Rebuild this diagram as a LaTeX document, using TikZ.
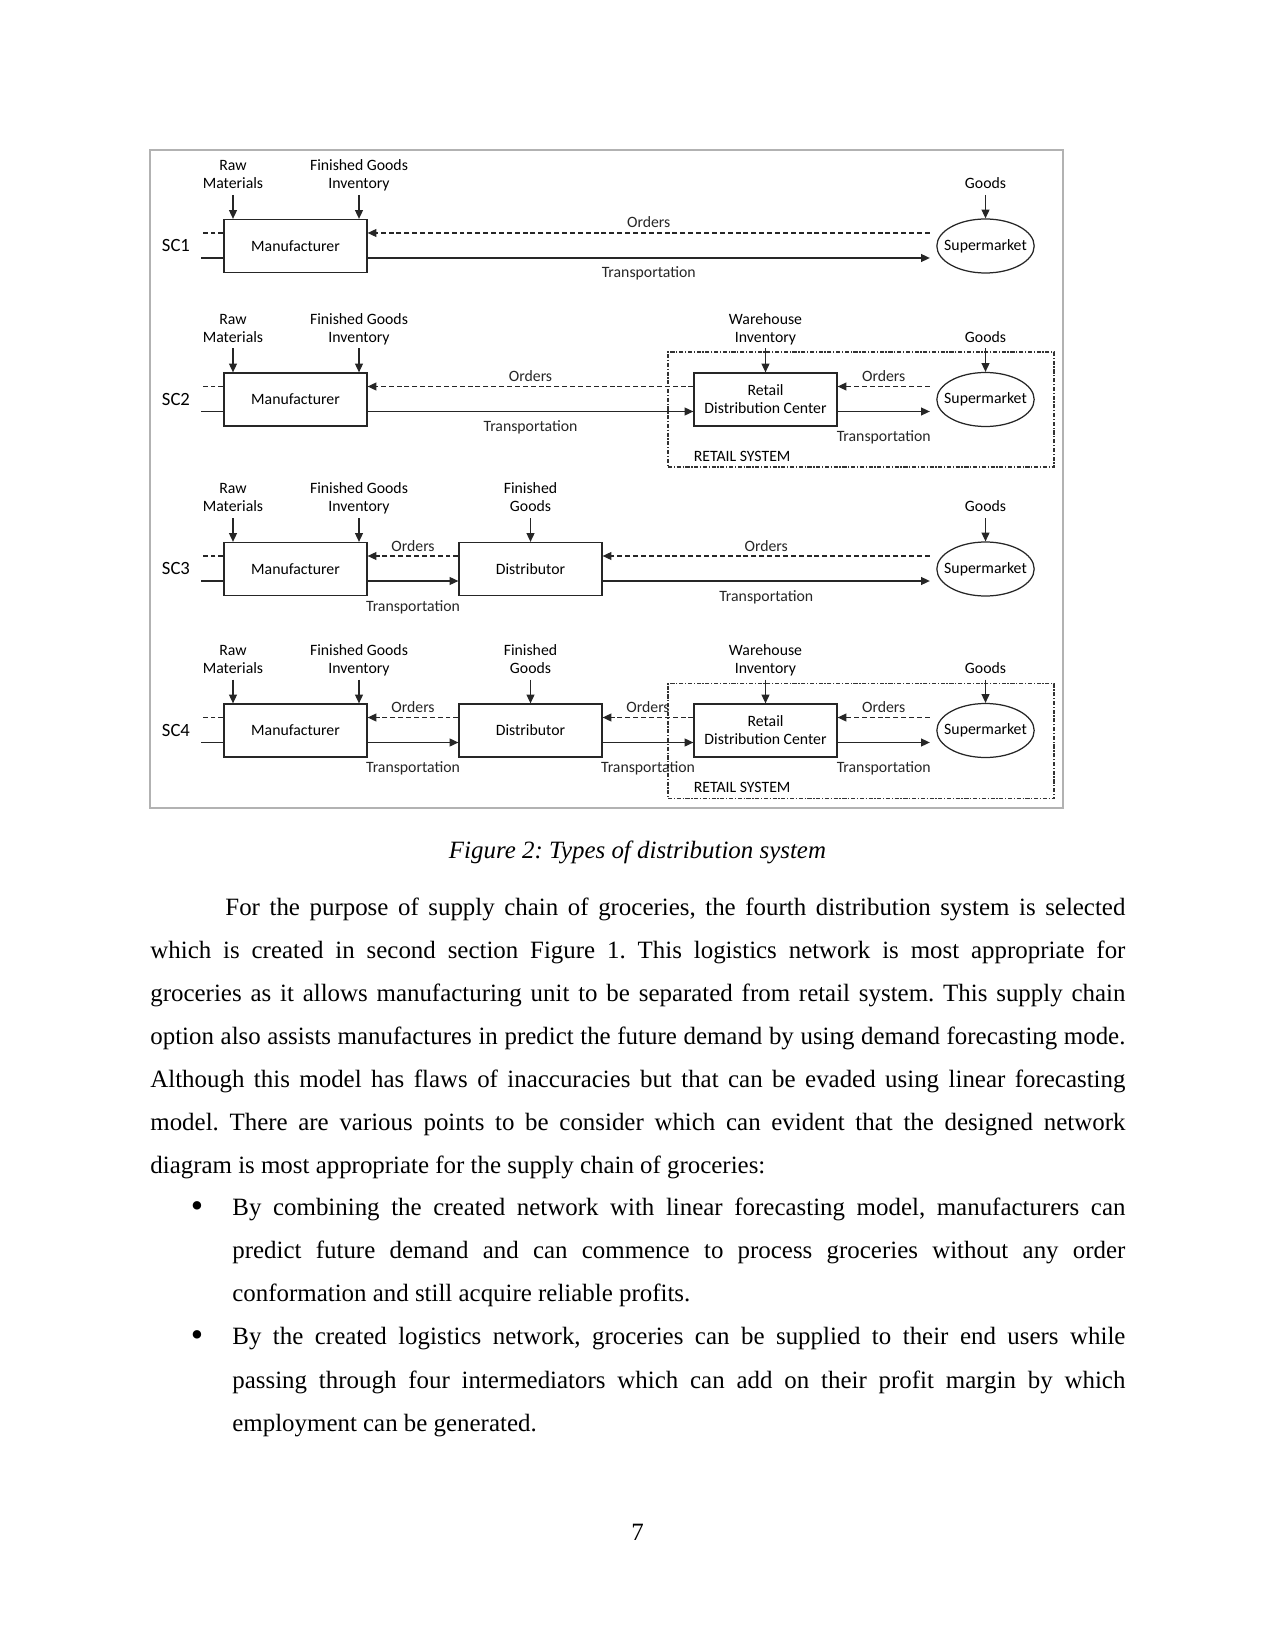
\documentclass[tikz,border=0pt]{standalone}
\usepackage{fontspec}
\setmainfont{Liberation Serif}
\newfontfamily\diafont{Carlito}
\usepackage{tikz}
\usetikzlibrary{arrows.meta,positioning,shapes.geometric,calc}

\newlength{\pxu}
\setlength{\pxu}{0.4818pt}
\newcommand{\dfont}{\diafont\fontsize{7.6}{8.7}\selectfont}
\newcommand{\bodyfont}{\fontsize{12}{14}\selectfont}
\frenchspacing

\begin{document}
\begin{tikzpicture}[
    x=\pxu, y=-\pxu,
    box/.style={rectangle, draw=black!85, line width=0.6pt, align=center,
                minimum width=143\pxu, minimum height=53\pxu, inner sep=1pt, font=\dfont},
    shop/.style={ellipse, draw=black!85, line width=0.6pt, minimum width=97\pxu,
                 minimum height=54\pxu, inner xsep=-3.3pt, inner ysep=0pt,
                 outer xsep=7\pxu, font=\dfont},
    retail/.style={rectangle, draw=black!80, line width=0.5pt,
                   dash pattern=on 2pt off 0.8pt on 0.6pt off 0.8pt,
                   minimum width=386\pxu, minimum height=115\pxu},
    feed/.style={align=center, font=\dfont, anchor=south, inner sep=0pt,
                 text depth=0pt, outer ysep=3pt},
    sclbl/.style={font=\diafont\fontsize{9}{10}\selectfont, inner sep=0pt},
    syslbl/.style={font=\dfont, inner sep=0pt},
    flow/.style={line width=0.6pt, black!85, -{Triangle[length=4.2pt,width=3.8pt]}},
    orderflow/.style={flow, dash pattern=on 2.4pt off 1.4pt},
    stub/.style={line width=0.6pt, black!85},
    orderstub/.style={stub, dash pattern=on 2.4pt off 1.4pt},
    ordlbl/.style={midway, anchor=base, yshift=5\pxu, font=\dfont},
    trlbl/.style={midway, anchor=base, yshift=-20\pxu, font=\dfont},
    trlow/.style={midway, anchor=base, yshift=-30\pxu, font=\dfont},
    txt/.style={anchor=base west, inner sep=0pt, font=\bodyfont},
    bullet/.style={anchor=base, inner sep=0pt, font=\fontsize{17}{17}\selectfont}
]
\useasboundingbox (0,0) rectangle (1275,1651);

% figure frame
\draw[gray!60, line width=0.5pt] (150,150) rectangle (1063,808);

% ---- SC1 ----
\node[box] (mfr1) at (295.5,246) {Manufacturer};
\node[shop] (sm1) at (985.5,246) {Supermarket};
\node[sclbl, left=33\pxu of mfr1] (sc1) {SC1};
\node[feed] (raw1) at (233,195) {Raw\\Materials};
\node[feed] (fgi1) at (359,195) {Finished Goods\\Inventory};
\node[feed] (goods1) at (985.5,195) {Goods};
\coordinate (o1) at ([yshift=13\pxu]mfr1.east);
\coordinate (t1) at ([yshift=-12\pxu]mfr1.east);

\draw[flow] (raw1) -- (raw1 |- mfr1.north);
\draw[flow] (fgi1) -- (fgi1 |- mfr1.north);
\draw[flow] (goods1) -- (goods1 |- sm1.north);
\draw[orderstub] (mfr1.west |- o1) -- ++(-22,0);
\draw[stub] (mfr1.west |- t1) -- ++(-22,0);
\draw[orderflow] (sm1.west |- o1) -- (mfr1.east |- o1) node[ordlbl]{Orders};
\draw[flow] (mfr1.east |- t1) -- (sm1.west |- t1) node[trlbl]{Transportation};

% ---- SC2 ----
\node[box] (mfr2) at (295.5,399.5) {Manufacturer};
\node[box] (rdc2) at (765.5,399.5) {Retail\\Distribution Center};
\node[shop] (sm2) at (985.5,399.5) {Supermarket};
\node[retail] (rs2) at (861,409.5) {};
\node[syslbl, below right=24\pxu and 0pt of rdc2.south west] (rsl2) {RETAIL SYSTEM};
\node[sclbl, left=33\pxu of mfr2] (sc2) {SC2};
\node[feed] (raw2) at (233,348.5) {Raw\\Materials};
\node[feed] (fgi2) at (359,348.5) {Finished Goods\\Inventory};
\node[feed] (whi2) at (765.5,348.5) {Warehouse\\Inventory};
\node[feed] (goods2) at (985.5,348.5) {Goods};
\coordinate (o2) at ([yshift=13\pxu]mfr2.east);
\coordinate (t2) at ([yshift=-12\pxu]mfr2.east);

\draw[flow] (raw2) -- (raw2 |- mfr2.north);
\draw[flow] (fgi2) -- (fgi2 |- mfr2.north);
\draw[flow] (whi2) -- (whi2 |- rdc2.north);
\draw[flow] (goods2) -- (goods2 |- sm2.north);
\draw[orderstub] (mfr2.west |- o2) -- ++(-22,0);
\draw[stub] (mfr2.west |- t2) -- ++(-22,0);
\draw[orderflow] (sm2.west |- o2) -- (rdc2.east |- o2) node[ordlbl]{Orders};
\draw[orderflow] (rdc2.west |- o2) -- (mfr2.east |- o2) node[ordlbl]{Orders};
\draw[flow] (mfr2.east |- t2) -- (rdc2.west |- t2) node[trlbl]{Transportation};
\draw[flow] (rdc2.east |- t2) -- (sm2.west |- t2) node[trlow]{Transportation};

% ---- SC3 ----
\node[box] (mfr3) at (295.5,569) {Manufacturer};
\node[box] (dist3) at (530.5,569) {Distributor};
\node[shop] (sm3) at (985.5,569) {Supermarket};
\node[sclbl, left=33\pxu of mfr3] (sc3) {SC3};
\node[feed] (raw3) at (233,518) {Raw\\Materials};
\node[feed] (fgi3) at (359,518) {Finished Goods\\Inventory};
\node[feed] (fg3) at (530.5,518) {Finished\\Goods};
\node[feed] (goods3) at (985.5,518) {Goods};
\coordinate (o3) at ([yshift=13\pxu]mfr3.east);
\coordinate (t3) at ([yshift=-12\pxu]mfr3.east);

\draw[flow] (raw3) -- (raw3 |- mfr3.north);
\draw[flow] (fgi3) -- (fgi3 |- mfr3.north);
\draw[flow] (fg3) -- (fg3 |- dist3.north);
\draw[flow] (goods3) -- (goods3 |- sm3.north);
\draw[orderstub] (mfr3.west |- o3) -- ++(-22,0);
\draw[stub] (mfr3.west |- t3) -- ++(-22,0);
\draw[orderflow] (sm3.west |- o3) -- (dist3.east |- o3) node[ordlbl]{Orders};
\draw[orderflow] (dist3.west |- o3) -- (mfr3.east |- o3) node[ordlbl]{Orders};
\draw[flow] (mfr3.east |- t3) -- (dist3.west |- t3) node[trlow]{Transportation};
\draw[flow] (dist3.east |- t3) -- (sm3.west |- t3) node[trlbl]{Transportation};

% ---- SC4 ----
\node[box] (mfr4) at (295.5,730.5) {Manufacturer};
\node[box] (dist4) at (530.5,730.5) {Distributor};
\node[box] (rdc4) at (765.5,730.5) {Retail\\Distribution Center};
\node[shop] (sm4) at (985.5,730.5) {Supermarket};
\node[retail] (rs4) at (861,741) {};
\node[syslbl, below right=24\pxu and 0pt of rdc4.south west] (rsl4) {RETAIL SYSTEM};
\node[sclbl, left=33\pxu of mfr4] (sc4) {SC4};
\node[feed] (raw4) at (233,679.5) {Raw\\Materials};
\node[feed] (fgi4) at (359,679.5) {Finished Goods\\Inventory};
\node[feed] (fg4) at (530.5,679.5) {Finished\\Goods};
\node[feed] (whi4) at (765.5,679.5) {Warehouse\\Inventory};
\node[feed] (goods4) at (985.5,679.5) {Goods};
\coordinate (o4) at ([yshift=13\pxu]mfr4.east);
\coordinate (t4) at ([yshift=-12\pxu]mfr4.east);

\draw[flow] (raw4) -- (raw4 |- mfr4.north);
\draw[flow] (fgi4) -- (fgi4 |- mfr4.north);
\draw[flow] (fg4) -- (fg4 |- dist4.north);
\draw[flow] (whi4) -- (whi4 |- rdc4.north);
\draw[flow] (goods4) -- (goods4 |- sm4.north);
\draw[orderstub] (mfr4.west |- o4) -- ++(-22,0);
\draw[stub] (mfr4.west |- t4) -- ++(-22,0);
\draw[orderflow] (sm4.west |- o4) -- (rdc4.east |- o4) node[ordlbl]{Orders};
\draw[orderflow] (rdc4.west |- o4) -- (dist4.east |- o4) node[ordlbl]{Orders};
\draw[orderflow] (dist4.west |- o4) -- (mfr4.east |- o4) node[ordlbl]{Orders};
\draw[flow] (mfr4.east |- t4) -- (dist4.west |- t4) node[trlow]{Transportation};
\draw[flow] (dist4.east |- t4) -- (rdc4.west |- t4) node[trlow]{Transportation};
\draw[flow] (rdc4.east |- t4) -- (sm4.west |- t4) node[trlow]{Transportation};

% caption and body text
\node[anchor=base, font=\bodyfont\itshape] (cap) at (637.5,858) {Figure 2: Types of distribution system};

\node[txt] (p1) at (225,915) {\makebox[900\pxu][s]{For the purpose of supply chain of groceries, the fourth distribution system is selected}};
\node[txt] (p2) at (150,958) {\makebox[975\pxu][s]{which is created in second section Figure 1. This logistics network is most appropriate for}};
\node[txt] (p3) at (150,1001) {\makebox[975\pxu][s]{groceries as it allows manufacturing unit to be separated from retail system. This supply chain}};
\node[txt] (p4) at (150,1044) {\makebox[975\pxu][s]{option also assists manufactures in predict the future demand by using demand forecasting mode.}};
\node[txt] (p5) at (150,1087) {\makebox[975\pxu][s]{Although this model has flaws of inaccuracies but that can be evaded using linear forecasting}};
\node[txt] (p6) at (150,1130) {\makebox[975\pxu][s]{model. There are various points to be consider which can evident that the designed network}};
\node[txt] (p7) at (150,1173) {diagram is most appropriate for the supply chain of groceries:};

\node[bullet] (b1) at (197,1217) {\textbullet};
\node[txt] (b1a) at (232,1215) {\makebox[893\pxu][s]{By combining the created network with linear forecasting model, manufacturers can}};
\node[txt] (b1b) at (232,1258) {\makebox[893\pxu][s]{predict future demand and can commence to process groceries without any order}};
\node[txt] (b1c) at (232,1301) {conformation and still acquire reliable profits.};
\node[bullet] (b2) at (197,1346) {\textbullet};
\node[txt] (b2a) at (232,1344) {\makebox[893\pxu][s]{By the created logistics network, groceries can be supplied to their end users while}};
\node[txt] (b2b) at (232,1388) {\makebox[893\pxu][s]{passing through four intermediators which can add on their profit margin by which}};
\node[txt] (b2c) at (232,1431) {employment can be generated.};

\node[anchor=base, font=\bodyfont] (pg) at (637.5,1540) {7};
\end{tikzpicture}
\end{document}
